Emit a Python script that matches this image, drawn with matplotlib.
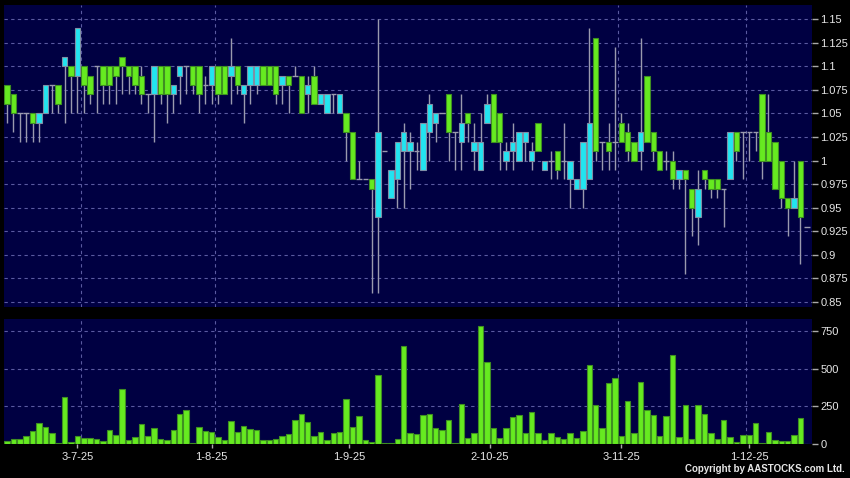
import matplotlib
matplotlib.use('Agg')
import matplotlib.pyplot as plt
from matplotlib.ticker import FuncFormatter

plt.rcParams['font.family'] = ['Liberation Sans', 'DejaVu Sans']

# daily candles (open, high, low, close), oldest first
opens = [1.08, 1.07, 1.05, 1.05, 1.05, 1.04, 1.05, 1.08, 1.08, 1.10,
         1.10, 1.09, 1.10, 1.09, 1.10, 1.10, 1.10, 1.10, 1.11, 1.10,
         1.10, 1.09, 1.07, 1.07, 1.10, 1.10, 1.07, 1.09, 1.10, 1.10,
         1.10, 1.08, 1.08, 1.10, 1.10, 1.09, 1.10, 1.07, 1.08, 1.08,
         1.10, 1.10, 1.10, 1.08, 1.09, 1.09, 1.09, 1.07, 1.09, 1.06,
         1.05, 1.07, 1.05, 1.05, 1.03, 0.98, 0.98, 0.98, 0.94, 1.01,
         0.96, 0.98, 1.01, 1.01, 1.01, 0.99, 1.03, 1.04, 1.05, 1.07,
         1.03, 1.02, 1.05, 1.01, 0.99, 1.04, 1.07, 1.05, 1.00, 1.01,
         1.00, 1.02, 1.00, 1.04, 0.99, 1.00, 1.01, 1.00, 0.98, 0.97,
         0.97, 0.98, 1.13, 1.02, 1.02, 1.02, 1.04, 1.03, 1.02, 1.01,
         1.09, 1.03, 1.01, 1.00, 1.00, 0.98, 0.99, 0.97, 0.94, 0.99,
         0.98, 0.98, 0.97, 0.98, 1.03, 1.03, 1.03, 1.03, 1.07, 1.03,
         1.02, 1.00, 0.96, 0.95, 1.00, 0.93]
highs = [1.08, 1.07, 1.05, 1.05, 1.05, 1.05, 1.08, 1.08, 1.08, 1.11,
         1.10, 1.14, 1.10, 1.09, 1.10, 1.10, 1.10, 1.10, 1.11, 1.10,
         1.10, 1.10, 1.07, 1.10, 1.10, 1.10, 1.08, 1.10, 1.10, 1.10,
         1.10, 1.09, 1.10, 1.10, 1.10, 1.13, 1.10, 1.08, 1.10, 1.10,
         1.10, 1.10, 1.10, 1.09, 1.09, 1.10, 1.09, 1.09, 1.10, 1.07,
         1.07, 1.07, 1.07, 1.05, 1.03, 1.00, 0.98, 0.98, 1.15, 1.01,
         0.99, 1.02, 1.04, 1.03, 1.02, 1.04, 1.07, 1.05, 1.05, 1.07,
         1.03, 1.07, 1.05, 1.04, 1.05, 1.07, 1.07, 1.05, 1.02, 1.04,
         1.03, 1.03, 1.02, 1.04, 1.00, 1.01, 1.01, 1.04, 1.00, 0.98,
         1.02, 1.14, 1.13, 1.02, 1.04, 1.12, 1.05, 1.04, 1.02, 1.13,
         1.09, 1.03, 1.01, 1.01, 1.01, 0.99, 0.99, 0.97, 0.99, 0.99,
         0.98, 0.98, 0.97, 1.03, 1.03, 1.03, 1.03, 1.03, 1.07, 1.07,
         1.02, 1.00, 0.96, 1.00, 1.00, 0.93]
lows = [1.04, 1.03, 1.02, 1.02, 1.02, 1.02, 1.05, 1.05, 1.05, 1.04,
        1.05, 1.05, 1.05, 1.06, 1.05, 1.06, 1.06, 1.06, 1.07, 1.07,
        1.07, 1.06, 1.05, 1.02, 1.06, 1.04, 1.05, 1.06, 1.07, 1.07,
        1.05, 1.06, 1.06, 1.06, 1.07, 1.06, 1.07, 1.04, 1.06, 1.07,
        1.08, 1.08, 1.06, 1.06, 1.05, 1.09, 1.05, 1.05, 1.06, 1.06,
        1.05, 1.05, 1.05, 1.00, 0.98, 0.98, 0.98, 0.86, 0.86, 1.01,
        0.96, 0.95, 0.95, 0.97, 0.99, 0.99, 1.00, 1.02, 1.05, 1.00,
        0.99, 0.99, 1.02, 0.99, 0.99, 1.04, 1.02, 0.99, 0.99, 0.99,
        1.00, 1.00, 0.99, 1.01, 0.99, 0.98, 0.98, 0.98, 0.95, 0.97,
        0.95, 0.98, 1.00, 0.99, 0.99, 0.99, 1.02, 1.00, 1.00, 0.99,
        1.02, 1.00, 0.99, 0.99, 0.97, 0.97, 0.88, 0.92, 0.91, 0.97,
        0.96, 0.96, 0.93, 0.98, 1.00, 0.98, 1.00, 1.01, 0.98, 1.00,
        0.97, 0.95, 0.92, 0.95, 0.89, 0.93]
closes = [1.06, 1.05, 1.05, 1.05, 1.04, 1.05, 1.08, 1.08, 1.06, 1.11,
          1.09, 1.14, 1.08, 1.07, 1.10, 1.08, 1.08, 1.09, 1.10, 1.09,
          1.08, 1.07, 1.07, 1.10, 1.07, 1.07, 1.08, 1.10, 1.10, 1.08,
          1.07, 1.08, 1.10, 1.07, 1.07, 1.10, 1.08, 1.08, 1.10, 1.10,
          1.08, 1.08, 1.07, 1.09, 1.08, 1.09, 1.05, 1.08, 1.06, 1.07,
          1.07, 1.07, 1.07, 1.03, 0.98, 0.98, 0.98, 0.97, 1.03, 1.01,
          0.99, 1.02, 1.03, 1.02, 1.01, 1.04, 1.06, 1.05, 1.05, 1.03,
          1.03, 1.04, 1.04, 1.02, 1.02, 1.06, 1.02, 1.02, 1.01, 1.02,
          1.03, 1.03, 1.01, 1.01, 1.00, 1.00, 0.99, 1.00, 1.00, 0.98,
          1.02, 1.04, 1.01, 1.02, 1.01, 1.02, 1.02, 1.01, 1.00, 1.03,
          1.02, 1.01, 0.99, 1.00, 0.98, 0.99, 0.98, 0.95, 0.97, 0.98,
          0.97, 0.97, 0.97, 1.03, 1.01, 1.03, 1.03, 1.03, 1.00, 1.00,
          0.97, 0.96, 0.95, 0.96, 0.94, 0.93]
volumes = [18, 29, 29, 53, 82, 135, 108, 71, 4, 312,
           11, 51, 35, 35, 29, 18, 91, 55, 361, 24,
           46, 128, 51, 102, 31, 24, 91, 197, 223, 7,
           113, 86, 77, 46, 27, 150, 75, 117, 95, 91,
           27, 27, 33, 51, 64, 157, 195, 146, 51, 77,
           24, 73, 80, 294, 111, 184, 24, 11, 460, 2,
           4, 33, 650, 73, 62, 188, 199, 102, 91, 157,
           5, 261, 40, 73, 785, 546, 104, 40, 102, 175,
           190, 69, 210, 71, 24, 69, 44, 31, 71, 40,
           84, 522, 257, 106, 403, 434, 51, 283, 69, 409,
           223, 188, 53, 184, 588, 46, 259, 31, 257, 197,
           71, 29, 157, 42, 11, 58, 58, 137, 7, 75,
           24, 18, 18, 58, 170, 0]

# month-start labels and the dashed separators between days
date_pos = [11, 32, 53.5, 75.5, 96, 116]
date_grid = [11.5, 32.5, 53.5, 75.5, 95.5, 115.5]
date_labels = ['3-7-25', '1-8-25', '1-9-25', '2-10-25', '3-11-25', '1-12-25']
price_ticks = [0.85, 0.875, 0.9, 0.925, 0.95, 0.975, 1.0,
               1.025, 1.05, 1.075, 1.1, 1.125, 1.15]
vol_ticks = [0, 250, 500, 750]

bg = '#000042'
green = '#66ea20'
green_edge = '#3f8f22'
cyan = '#22e4f0'
cyan_edge = '#7f8fa6'
wick = '#9a9aae'
grid = '#5a5aa0'
txt = '#e6e6e6'

fig = plt.figure(figsize=(8.5, 4.78), dpi=100, facecolor='black')
ax = fig.add_axes([0.0047, 0.3577, 0.9506, 0.6318], facecolor=bg)
axv = fig.add_axes([0.0047, 0.0711, 0.9506, 0.2615], facecolor=bg, sharex=ax)

x = list(range(len(opens)))
w = 0.85

# wicks
ax.vlines(x, lows, highs, color=wick, linewidth=1, zorder=2)

# bodies
for i in x:
    o, c = opens[i], closes[i]
    if o == c:
        ax.hlines(o, i - w / 2, i + w / 2, color=wick, linewidth=1, zorder=3)
    elif c > o:
        ax.bar(i, c - o, bottom=o, width=w, color=cyan, edgecolor=cyan_edge,
               linewidth=0.8, zorder=3)
    else:
        ax.bar(i, o - c, bottom=c, width=w, color=green, edgecolor=green_edge,
               linewidth=0.8, zorder=3)

axv.bar(x, volumes, width=w, color=green, edgecolor=green_edge,
        linewidth=0.8, zorder=3)

ax.set_xlim(-0.47, 125.8)
ax.set_ylim(0.8447, 1.1648)
axv.set_ylim(-3, 830)

for a in (ax, axv):
    for s in a.spines.values():
        s.set_visible(False)
    a.yaxis.tick_right()
    a.set_xticks(date_pos)
    a.set_xticks(date_grid, minor=True)
    a.grid(True, axis='y', color=grid, linestyle=(0, (3, 3)), linewidth=0.8,
           zorder=0)
    a.grid(True, axis='x', which='minor', color=grid, linestyle=(0, (3, 3)),
           linewidth=0.8, zorder=0)
    a.tick_params(axis='x', which='minor', length=0)
    a.tick_params(axis='y', colors='#aaaaaa', labelcolor=txt, length=4,
                  width=1, pad=2, labelsize=8)

ax.set_yticks(price_ticks)
ax.yaxis.set_major_formatter(FuncFormatter(lambda v, p: f'{v:g}'))
ax.tick_params(axis='x', length=0, labelbottom=False)

axv.set_yticks(vol_ticks)
axv.set_xticklabels(date_labels)
axv.tick_params(axis='x', colors='#aaaaaa', labelcolor=txt, length=3,
                width=1, pad=3, labelsize=8)

fig.text(0.994, 0.008, 'Copyright by AASTOCKS.com Ltd.', ha='right',
         va='bottom', fontsize=7, fontweight='bold', color=txt)

fig.savefig('out.png', dpi=100, facecolor='black')
